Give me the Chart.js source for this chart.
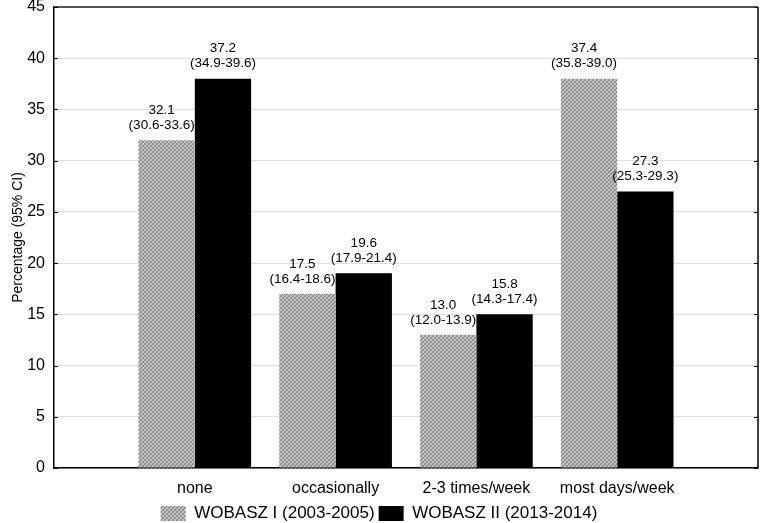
<!DOCTYPE html>
<html>
<head>
<meta charset="utf-8">
<script src="https://cdn.jsdelivr.net/npm/chart.js@4/dist/chart.umd.min.js"></script>
<style>
  html, body { margin: 0; padding: 0; background: #fff; }
  #wrap { width: 761px; height: 523px; position: relative; }
</style>
</head>
<body>
<div id="wrap"><canvas id="chart"></canvas></div>
<script>
const categories = ["none", "occasionally", "2-3 times/week", "most days/week"];
const seriesNames = ["WOBASZ I (2003-2005)", "WOBASZ II (2013-2014)"];
// bar heights as drawn in the figure
const wobasz1 = [32, 17, 13, 38];
const wobasz2 = [38, 19, 15, 27];
// printed estimates and confidence intervals
const est1 = ["32.1", "17.5", "13.0", "37.4"];
const ci1 = ["(30.6-33.6)", "(16.4-18.6)", "(12.0-13.9)", "(35.8-39.0)"];
const est2 = ["37.2", "19.6", "15.8", "27.3"];
const ci2 = ["(34.9-39.6)", "(17.9-21.4)", "(14.3-17.4)", "(25.3-29.3)"];
const yTicks = [0, 5, 10, 15, 20, 25, 30, 35, 40, 45];

const FONT = "'Liberation Sans', Arial, sans-serif";

// fine grey texture for the first series
function makePattern() {
  const pc = document.createElement("canvas");
  pc.width = 4;
  pc.height = 4;
  const g = pc.getContext("2d");
  g.fillStyle = "#c4c4c4";
  g.fillRect(0, 0, 4, 4);
  g.fillStyle = "#808080";
  [[0, 0], [2, 2], [1, 3], [3, 1]].forEach(([x, y]) => g.fillRect(x, y, 1, 1));
  g.fillStyle = "#a0a0a0";
  [[1, 0], [3, 2], [2, 1], [0, 3]].forEach(([x, y]) => g.fillRect(x, y, 1, 1));
  return g.createPattern(pc, "repeat");
}
const ctx0 = document.getElementById("chart").getContext("2d");
const greyPattern = makePattern();

// pad with empty slots so the groups sit at 1..4 on a 0..5 axis
const labels = ["", ...categories, ""];
const pad = (arr) => [null, ...arr, null];

const labelPlugin = {
  id: "barLabels",
  afterDatasetsDraw(chart) {
    const c = chart.ctx;
    const texts = [[est1, ci1], [est2, ci2]];
    const shift = [-5, 0];
    c.save();
    c.font = "13.5px " + FONT;
    c.fillStyle = "#000";
    c.textAlign = "center";
    c.textBaseline = "middle";
    chart.data.datasets.forEach((ds, di) => {
      const meta = chart.getDatasetMeta(di);
      meta.data.forEach((bar, i) => {
        const k = i - 1;
        if (k < 0 || k >= categories.length) return;
        c.fillText(texts[di][0][k], bar.x + shift[di], bar.y - 30);
        c.fillText(texts[di][1][k], bar.x + shift[di], bar.y - 15);
      });
    });
    c.restore();
  },
};

const framePlugin = {
  id: "frame",
  afterDraw(chart) {
    const { left, right, top, bottom } = chart.chartArea;
    const c = chart.ctx;
    const y = chart.scales.y;
    c.save();
    c.strokeStyle = "#555";
    c.lineWidth = 2;
    c.beginPath();
    c.moveTo(left, top);
    c.lineTo(right, top);
    c.stroke();
    c.strokeStyle = "#000";
    c.lineWidth = 1.5;
    c.beginPath();
    c.moveTo(right, top);
    c.lineTo(right, bottom);
    c.stroke();
    c.lineWidth = 1;
    yTicks.forEach((v) => {
      const py = Math.round(y.getPixelForValue(v)) + 0.5;
      c.beginPath();
      c.moveTo(left, py);
      c.lineTo(left + 4, py);
      c.moveTo(right - 4, py);
      c.lineTo(right, py);
      c.stroke();
    });
    c.restore();
  },
};

new Chart(ctx0, {
  type: "bar",
  data: {
    labels: labels,
    datasets: [
      {
        label: seriesNames[0],
        data: pad(wobasz1),
        backgroundColor: greyPattern,
        borderWidth: 0,
      },
      {
        label: seriesNames[1],
        data: pad(wobasz2),
        backgroundColor: "#000",
        borderWidth: 0,
      },
    ],
  },
  options: {
    responsive: true,
    maintainAspectRatio: false,
    animation: false,
    layout: { padding: { top: 7, right: 3, left: 0, bottom: -9 } },
    datasets: {
      bar: { categoryPercentage: 0.8, barPercentage: 1.0 },
    },
    plugins: {
      legend: {
        position: "bottom",
        labels: {
          font: { family: FONT, size: 17 },
          color: "#000",
          boxWidth: 25,
          boxHeight: 15,
          padding: 4,
        },
      },
      tooltip: { enabled: false },
    },
    scales: {
      x: {
        offset: false,
        grid: { drawOnChartArea: false, drawTicks: false, color: "transparent" },
        border: { color: "#000", width: 1.5 },
        ticks: {
          font: { family: FONT, size: 16 },
          color: "#000",
          padding: 11,
          maxRotation: 0,
          autoSkip: false,
        },
        afterFit(scale) {
          scale.height = 33;
          scale.paddingLeft = 0;
          scale.paddingRight = 0;
        },
      },
      y: {
        min: 0,
        max: 45,
        afterBuildTicks(scale) {
          scale.ticks = yTicks.map((v) => ({ value: v }));
        },
        grid: { color: "#dedede", lineWidth: 1, drawTicks: false },
        border: { color: "#000", width: 1.5 },
        ticks: {
          font: { family: FONT, size: 16 },
          color: "#000",
          padding: 9,
        },
        title: {
          display: true,
          text: "Percentage (95% CI)",
          font: { family: FONT, size: 14 },
          color: "#000",
          padding: { top: 10, bottom: 4 },
        },
        afterFit(scale) {
          scale.width = 54;
          scale.paddingTop = 0;
          scale.paddingBottom = 0;
        },
      },
    },
  },
  plugins: [labelPlugin, framePlugin],
});
</script>
</body>
</html>
